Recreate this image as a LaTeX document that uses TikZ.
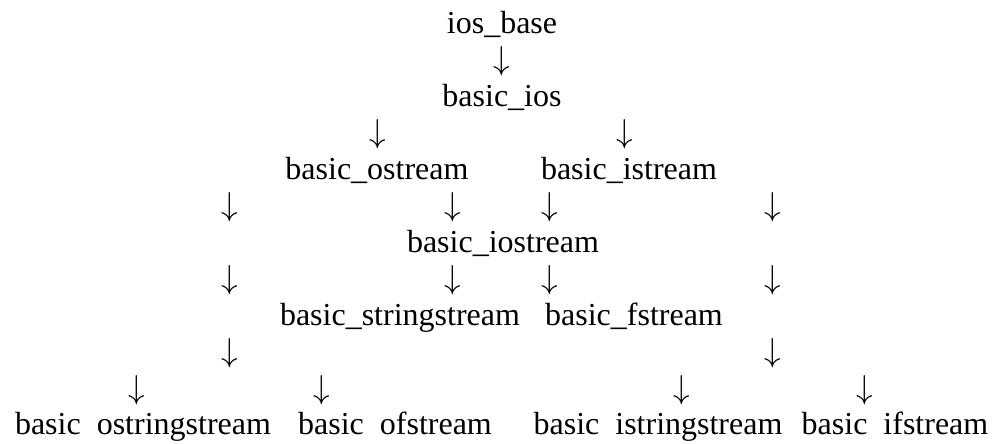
\documentclass[tikz,border=0pt]{standalone}
\usepackage{fontspec}
\setmainfont{Liberation Serif}
\newcommand{\darr}{\smash{$\downarrow$}}
\begin{document}
\begin{tikzpicture}[x=0.75pt,y=-0.75pt,
  lbl/.style={inner sep=0pt, anchor=base, font=\fontsize{24}{28}\selectfont},
  arr/.style={lbl}]
\useasboundingbox (0,0) rectangle (998,443);
\node[lbl] (iosbase) at (502,33) {ios\_base};
\node[arr] (a1) at (502,69.5) {\darr};
\node[lbl] (basicios) at (502,106) {basic\_ios};
\node[arr] (a3l) at (378,142.5) {\darr};
\node[arr] (a3r) at (625,142.5) {\darr};
\node[lbl] (ostream) at (377,179) {basic\_ostream};
\node[lbl] (istream) at (629,179) {basic\_istream};
\node[arr] (a5a) at (230,215.5) {\darr};
\node[arr] (a5b) at (453,215.5) {\darr};
\node[arr] (a5c) at (550,215.5) {\darr};
\node[arr] (a5d) at (773,215.5) {\darr};
\node[lbl] (iostream) at (503,252) {basic\_iostream};
\node[arr] (a7a) at (230,288.5) {\darr};
\node[arr] (a7b) at (453,288.5) {\darr};
\node[arr] (a7c) at (550,288.5) {\darr};
\node[arr] (a7d) at (773,288.5) {\darr};
\node[lbl] (sstream) at (400,325) {basic\_stringstream};
\node[lbl] (fstream) at (634,325) {basic\_fstream};
\node[arr] (a9a) at (230,361.5) {\darr};
\node[arr] (a9b) at (773,361.5) {\darr};
\node[arr] (a10a) at (137,398) {\darr};
\node[arr] (a10b) at (322,398) {\darr};
\node[arr] (a10c) at (682,398) {\darr};
\node[arr] (a10d) at (865,398) {\darr};
\node[lbl] (osstream) at (143,434.5) {basic\hphantom{\_}ostringstream};
\node[lbl] (ofstream) at (395,434.5) {basic\hphantom{\_}ofstream};
\node[lbl] (isstream) at (658,434.5) {basic\hphantom{\_}istringstream};
\node[lbl] (ifstream) at (895,434.5) {basic\hphantom{\_}ifstream};
\end{tikzpicture}
\end{document}
